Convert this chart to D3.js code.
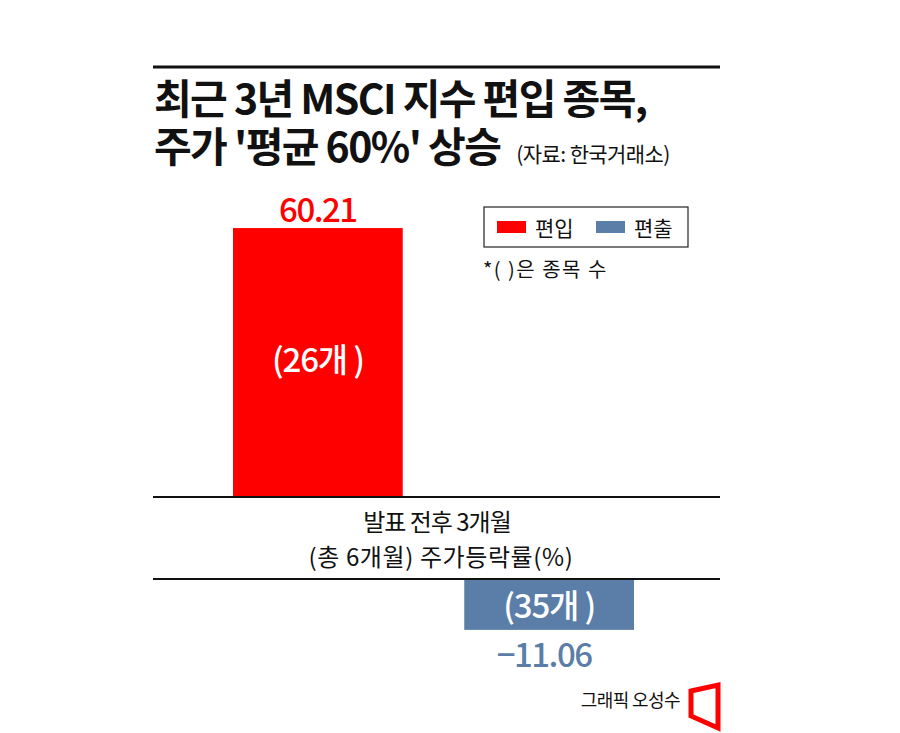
<!DOCTYPE html>
<html><head><meta charset="utf-8">
<script src="https://cdn.jsdelivr.net/npm/d3@7"></script>
<style>body{margin:0;background:#fff}svg{display:block}text{font-family:"Noto Sans CJK KR","Noto Sans",sans-serif}</style>
</head><body>
<script>
const categories = ["편입", "편출"];
const values = [60.21, -11.06];
const counts = ["(26개 )", "(35개 )"];
const colors = ["#ff0000", "#5a7ea7"];
const titleLines = ["최근 3년 MSCI 지수 편입 종목,", "주가 '평균 60%' 상승"];
const source = "(자료: 한국거래소)";
const axisLabel = ["발표 전후 3개월", "(총 6개월) 주가등락률(%)"];
const note = "*( )은 종목 수";
const credit = "그래픽 오성수";

const W = 900, H = 733;
const svg = d3.select("body").append("svg").attr("width", W).attr("height", H);

const x = d3.scaleBand().domain(categories).range([233, 634]).paddingInner(0.266).paddingOuter(0);
const yTop = d3.scaleLinear().domain([0, 60]).range([497, 229]);
const yBot = d3.scaleLinear().domain([0, -10]).range([579, 625]);
const color = d3.scaleOrdinal().domain(categories).range(colors);

// title rule
svg.append("line").attr("x1", 153).attr("x2", 720).attr("y1", 67).attr("y2", 67).attr("stroke", "#111").attr("stroke-width", 3);
const t = svg.append("text").attr("font-size", 41).attr("font-weight", 700).attr("letter-spacing", -1.6).attr("fill", "#111");
t.append("tspan").attr("x", 154).attr("y", 114).text(titleLines[0]);
t.append("tspan").attr("x", 154).attr("y", 162).text(titleLines[1]);
t.append("tspan").attr("dx", 16).attr("font-size", 21).attr("font-weight", 400).attr("letter-spacing", -0.6).text(source);

// bars
const data = categories.map((c, i) => ({ c, v: values[i], n: counts[i] }));
svg.selectAll("rect.bar").data(data).join("rect").attr("class", "bar")
  .attr("x", d => x(d.c)).attr("width", x.bandwidth())
  .attr("y", d => d.v >= 0 ? yTop(d.v) : yBot(0))
  .attr("height", d => d.v >= 0 ? yTop(0) - yTop(d.v) : yBot(d.v) - yBot(0))
  .attr("fill", d => color(d.c));

// value labels
svg.selectAll("text.val").data(data).join("text").attr("class", "val")
  .attr("x", d => x(d.c) + x.bandwidth() / 2 - (d.v < 0 ? 5 : 0))
  .attr("y", d => d.v >= 0 ? yTop(d.v) - 6 : yBot(d.v) + 37)
  .attr("text-anchor", "middle").attr("font-size", 33).attr("font-weight", 500).attr("letter-spacing", -1.5)
  .attr("fill", d => color(d.c)).text(d => d.v.toFixed(2).replace("-", "−"));

// count labels
svg.selectAll("text.cnt").data(data).join("text").attr("class", "cnt")
  .attr("x", d => x(d.c) + x.bandwidth() / 2)
  .attr("y", d => d.v >= 0 ? 372 : 618)
  .attr("text-anchor", "middle").attr("font-size", 33).attr("font-weight", 500).attr("letter-spacing", -1.2)
  .attr("fill", "#fff").text(d => d.n);

// axis lines
[yTop(0), yBot(0)].forEach(yy => svg.append("line").attr("x1", 153).attr("x2", 720).attr("y1", yy).attr("y2", yy).attr("stroke", "#111").attr("stroke-width", 2));
svg.append("text").attr("x", 437).attr("y", 531).attr("text-anchor", "middle").attr("font-size", 24).attr("letter-spacing", -1).attr("fill", "#111").text(axisLabel[0]);
svg.append("text").attr("x", 441).attr("y", 566).attr("text-anchor", "middle").attr("font-size", 24).attr("letter-spacing", 0.6).attr("fill", "#111").text(axisLabel[1]);

// legend
const lg = svg.append("g");
lg.append("rect").attr("x", 484).attr("y", 207).attr("width", 204).attr("height", 40).attr("fill", "#fff").attr("stroke", "#222").attr("stroke-width", 1.2);
const lgx = [497, 596];
categories.forEach((c, i) => {
  lg.append("rect").attr("x", lgx[i]).attr("y", 221).attr("width", 29).attr("height", 12).attr("fill", color(c));
  lg.append("text").attr("x", lgx[i] + 38).attr("y", 236).attr("font-size", 21).attr("fill", "#111").text(c);
});
svg.append("text").attr("x", 483).attr("y", 277).attr("font-size", 20).attr("fill", "#111").attr("letter-spacing", 1.5).text(note);

// credit
svg.append("text").attr("x", 680).attr("y", 707).attr("text-anchor", "end").attr("font-size", 18).attr("letter-spacing", -0.6).attr("fill", "#111").text(credit);
svg.append("path").attr("d", "M691,691 L718,685 L718,728 L691,716 Z").attr("fill", "#fff").attr("stroke", "#ff0000").attr("stroke-width", 5);
</script>
</body></html>
